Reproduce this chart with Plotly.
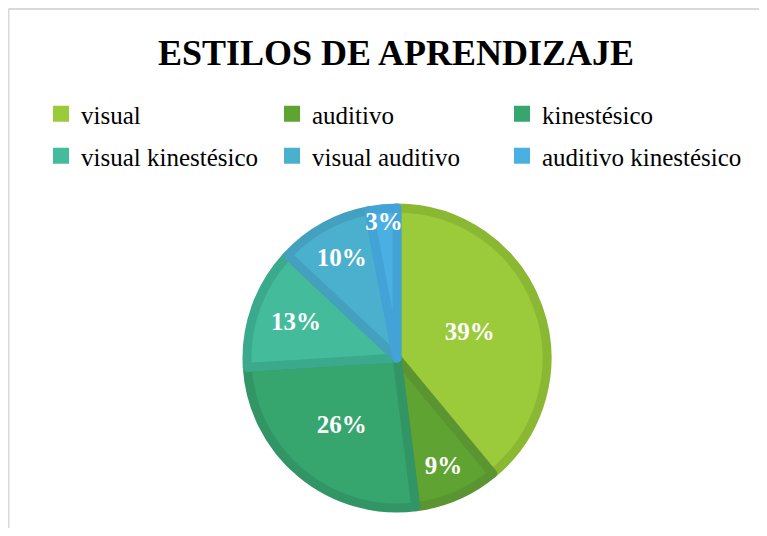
import plotly.graph_objects as go

labels = ["visual", "auditivo", "kinestésico", "visual kinestésico", "visual auditivo", "auditivo kinestésico"]
values = [39, 9, 26, 13, 10, 3]
fill_colors = ["#9BCA3B", "#5FA333", "#37A66E", "#44BB9B", "#4BAFCE", "#4AB0E2"]
line_colors = ["#8BB833", "#5A9531", "#329566", "#3BA98C", "#44A0BF", "#44A3D6"]
title_text = "ESTILOS DE APRENDIZAJE"

SERIF = "Liberation Serif"

# page body has an 8px margin; figure sized to fit the window
W, H = 751, 520
cx, cy, r = 389, 350, 150

# legend grid: 3 columns x 2 rows (pixel positions of each legend box)
legend_cols = [33, 264, 494]
legend_rows = [83, 125]

fig = go.Figure()
fig.add_trace(go.Pie(
    labels=labels,
    values=values,
    sort=False,
    direction="clockwise",
    rotation=0,
    marker=dict(colors=fill_colors, line=dict(color=line_colors, width=9)),
    texttemplate="%{percent:.0%}",
    textposition="inside",
    insidetextorientation="horizontal",
    textfont=dict(family=SERIF, size=25, color="white", weight="bold"),
    domain=dict(x=[(cx - r) / W, (cx + r) / W], y=[(H - cy - r) / H, (H - cy + r) / H]),
    hoverinfo="label+percent",
    showlegend=False,
))

legend_layouts = {}
for i, (lab, col) in enumerate(zip(labels, fill_colors)):
    key = "legend" if i == 0 else f"legend{i + 1}"
    fig.add_trace(go.Scatter(
        x=[None], y=[None], mode="markers", name=lab,
        marker=dict(symbol="square", size=16, color=col),
        legend=key,
        hoverinfo="skip",
    ))
    legend_layouts[key] = dict(
        x=legend_cols[i % 3] / W, xanchor="left",
        y=1 - legend_rows[i // 3] / H, yanchor="top",
        itemwidth=30,
        font=dict(family=SERIF, size=25, color="black"),
        bgcolor="rgba(0,0,0,0)",
        itemclick=False, itemdoubleclick=False,
    )

fig.update_layout(
    width=W, height=H,
    margin=dict(l=0, r=0, t=0, b=0),
    font=dict(family=SERIF, color="black"),
    paper_bgcolor="white",
    plot_bgcolor="white",
    xaxis=dict(visible=False),
    yaxis=dict(visible=False),
    uniformtext=dict(minsize=25, mode="show"),
    title=dict(
        text=title_text,
        x=388 / W, xanchor="center",
        y=1 - 44 / H, yanchor="middle",
        font=dict(family=SERIF, size=36, color="black", weight="bold"),
    ),
    shapes=[
        dict(type="line", xref="paper", yref="paper",
             x0=0.5 / W, x1=0.5 / W, y0=-0.5, y1=1 - 1 / H,
             line=dict(color="#D9D9D9", width=2), layer="below"),
        dict(type="line", xref="paper", yref="paper",
             x0=0.5 / W, x1=1.5, y0=1 - 1 / H, y1=1 - 1 / H,
             line=dict(color="#D9D9D9", width=2), layer="below"),
    ],
    **legend_layouts,
)

fig.write_html("out.html")
